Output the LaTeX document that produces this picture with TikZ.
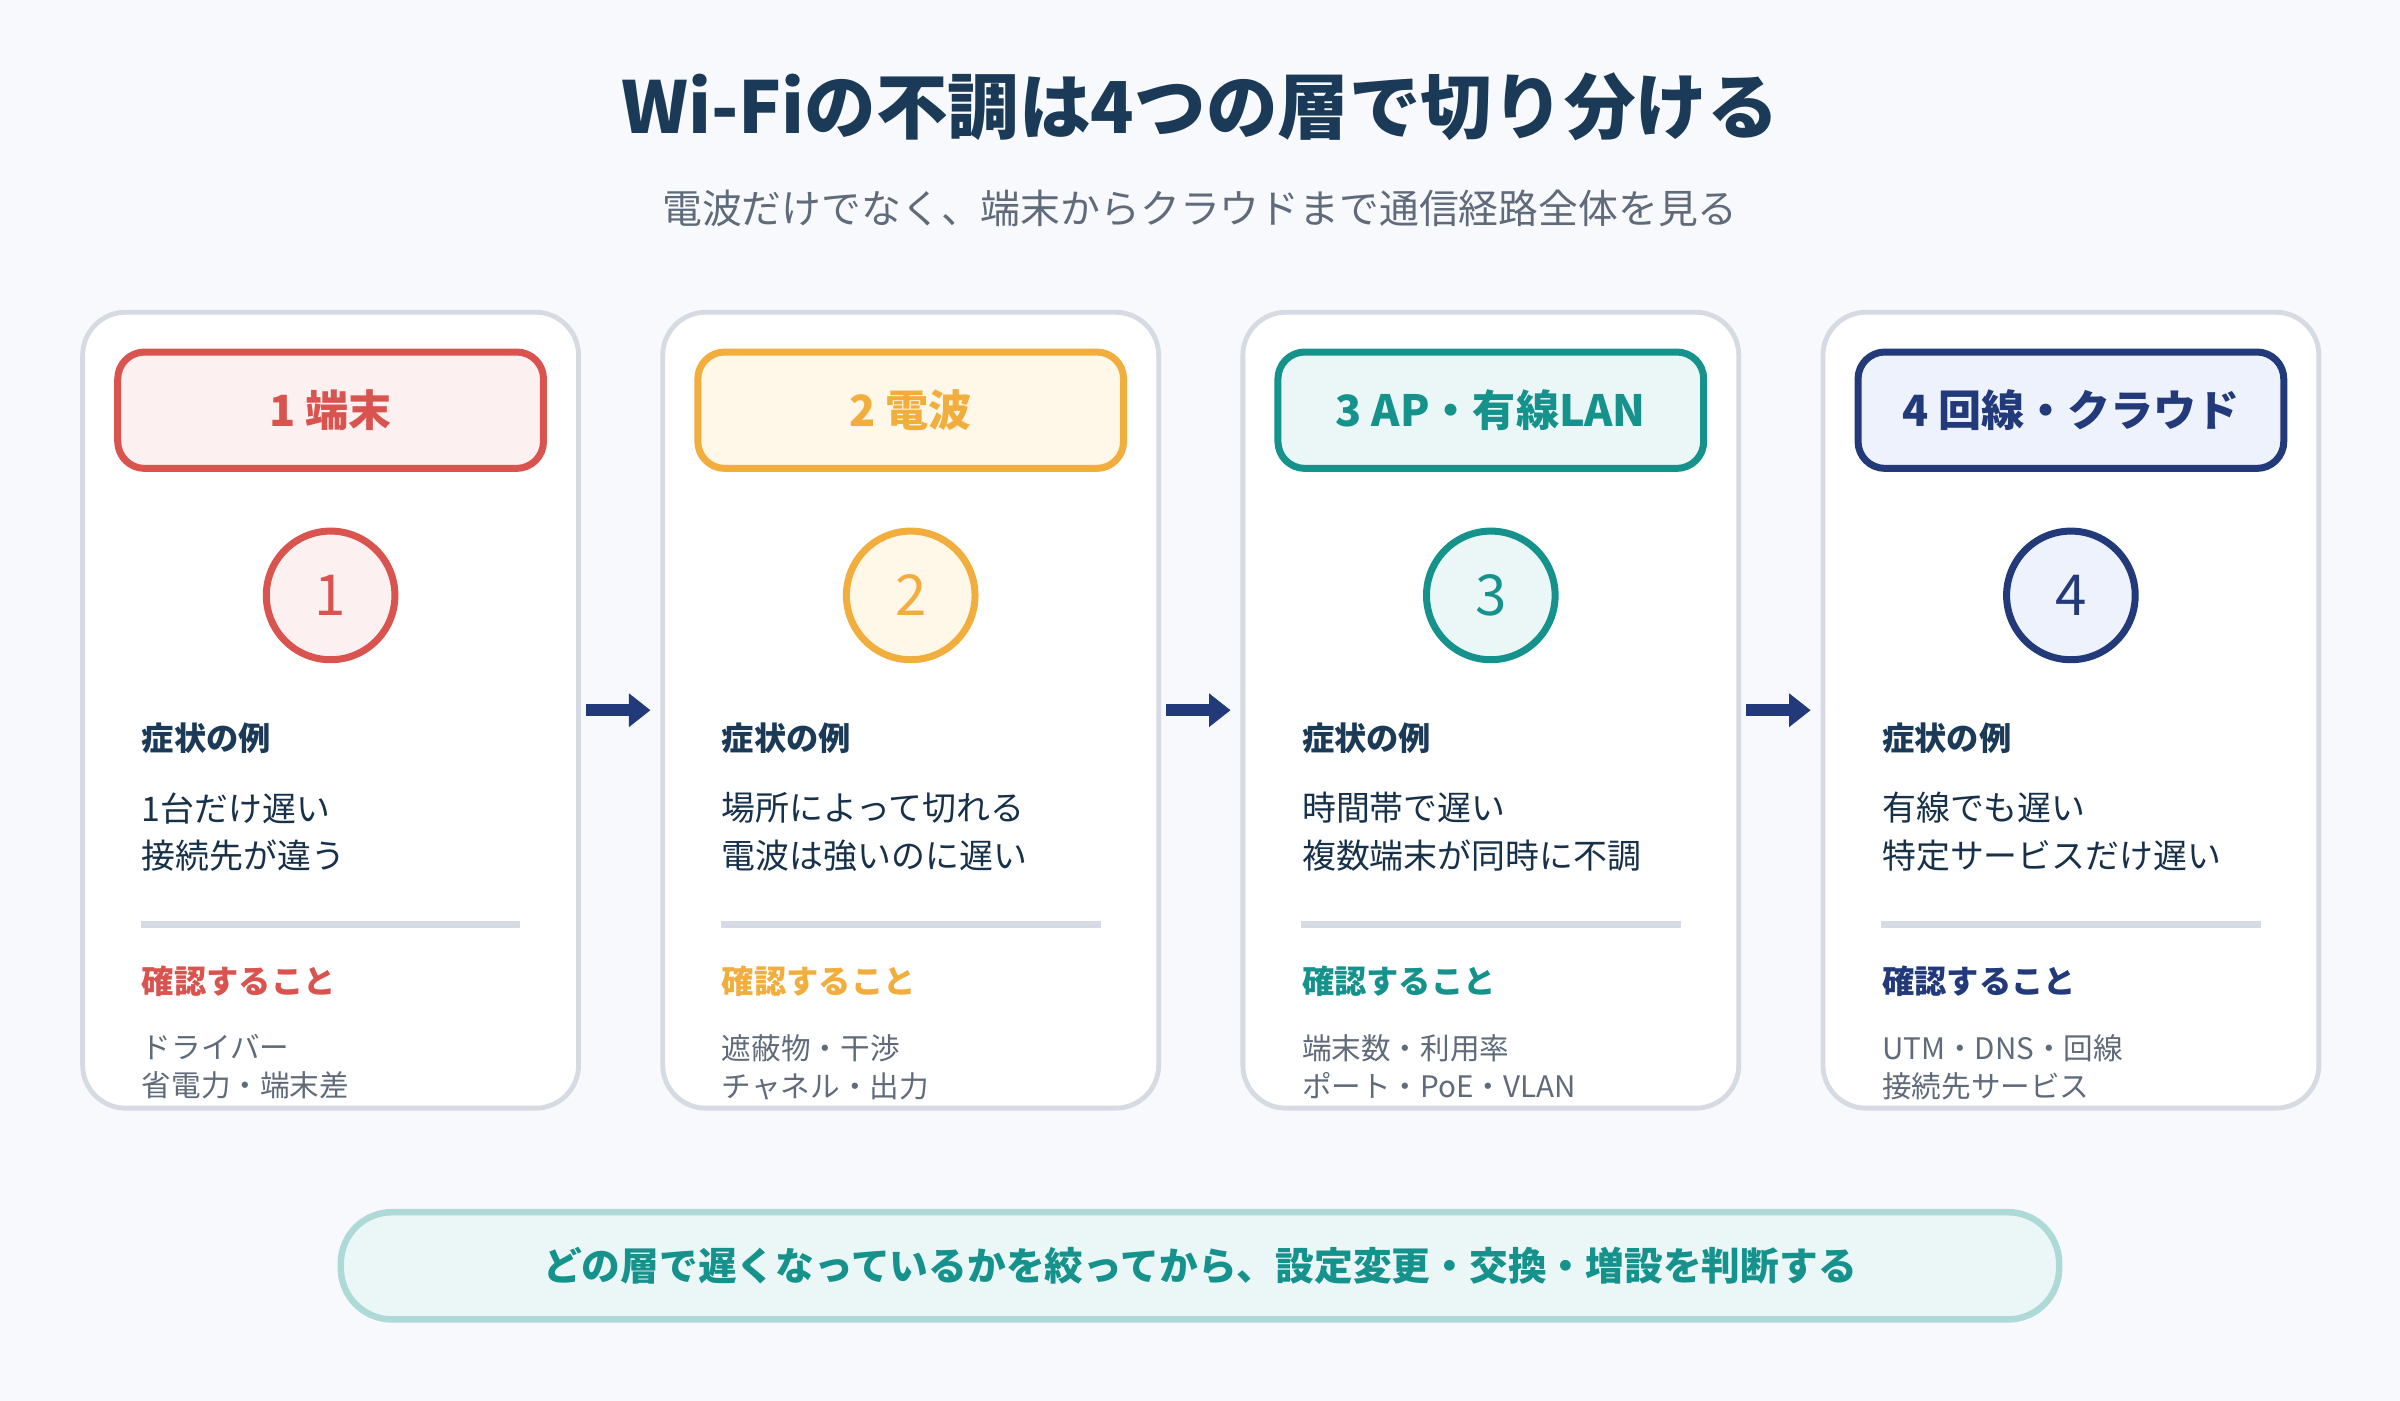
\documentclass[tikz,border=0pt]{standalone}
\usepackage{fontspec}
\setmainfont{Noto Sans CJK JP}
\usetikzlibrary{positioning}
\definecolor{bgc}{HTML}{F7F9FC}
\definecolor{titlec}{HTML}{1B3A57}
\definecolor{greyc}{HTML}{5F6B7A}
\definecolor{linec}{HTML}{D5DAE3}
\definecolor{cA}{HTML}{D9534F}\definecolor{fA}{HTML}{FDF0F0}
\definecolor{cB}{HTML}{F2AE3D}\definecolor{fB}{HTML}{FFF7E8}
\definecolor{cC}{HTML}{16928C}\definecolor{fC}{HTML}{EBF7F6}
\definecolor{cD}{HTML}{223A7A}\definecolor{fD}{HTML}{EEF2FC}
\tikzset{
  card/.style={draw=linec, line width=0.9pt, fill=white, rounded corners=8pt},
  head/.style={line width=1.3pt, rounded corners=5pt, minimum width=2.78cm, minimum height=0.76cm, font=\bfseries\fontsize{8}{10}\selectfont},
  badge/.style={circle, line width=1.3pt, minimum size=0.84cm, font=\fontsize{10.5}{12}\selectfont},
  lbl/.style={anchor=west, font=\bfseries\fontsize{6}{8}\selectfont},
  body/.style={anchor=north west, align=left, text=titlec!85!black, font=\fontsize{6.3}{8.9}\selectfont, inner sep=0pt},
  small/.style={anchor=north west, align=left, text=greyc, font=\fontsize{5.5}{7.1}\selectfont, inner sep=0pt},
  flow/.style={-{Triangle[length=4pt,width=6pt]}, line width=2.2pt, cD}
}
\usetikzlibrary{arrows.meta}
\begin{document}
\begin{tikzpicture}[x=0.01cm, y=-0.01cm]
  \fill[bgc] (0,0) rectangle (1568,915);
  % Title
  \node[text=titlec, font=\bfseries\fontsize{13.3}{15}\selectfont] (title) at (784,70) {Wi-Fiの不調は4つの層で切り分ける};
  \node[text=greyc, font=\fontsize{7.4}{9}\selectfont] (sub) at (784,136) {電波だけでなく、端末からクラウドまで通信経路全体を見る};
  % Cards
  \foreach \i/\x/\c/\f/\h/\s/\k in {
    1/54/cA/fA/1 端末/{1台だけ遅い\\接続先が違う}/{ドライバー\\省電力・端末差},
    2/433/cB/fB/2 電波/{場所によって切れる\\電波は強いのに遅い}/{遮蔽物・干渉\\チャネル・出力},
    3/812/cC/fC/3 AP・有線LAN/{時間帯で遅い\\複数端末が同時に不調}/{端末数・利用率\\ポート・PoE・VLAN},
    4/1191/cD/fD/4 回線・クラウド/{有線でも遅い\\特定サービスだけ遅い}/{UTM・DNS・回線\\接続先サービス}} {
    \draw[card] (\x,204) rectangle ++(324,520);
    \node[head, draw=\c, fill=\f, text=\c] (head\i) at (\x+162,268) {\h};
    \node[badge, draw=\c, fill=\f, text=\c] (num\i) at (\x+162,389) {\i};
    \node[lbl, text=titlec, inner sep=0pt] (ex\i) at (\x+38,482) {症状の例};
    \node[body] (sym\i) at (\x+38,517) {\s};
    \draw[linec, line width=1.2pt] (\x+38,604) -- (\x+286,604);
    \node[lbl, text=\c, inner sep=0pt] (chk\i) at (\x+38,641) {確認すること};
    \node[small] (item\i) at (\x+38,675) {\k};
  }
  % Arrows
  \foreach \x [count=\n] in {383,762,1141} {
    \coordinate (a\n) at (\x,464);
    \coordinate (b\n) at (\x+42,464);
    \draw[flow] (a\n) -- (b\n);
  }
  % Bottom note
  \node[draw=cC!35, fill=fC, line width=1.2pt, rounded corners=9.5pt, minimum width=11.22cm, minimum height=0.7cm,
        text=cC, font=\bfseries\fontsize{7.2}{9}\selectfont] (note) at (784,827)
        {どの層で遅くなっているかを絞ってから、設定変更・交換・増設を判断する};
\end{tikzpicture}
\end{document}
